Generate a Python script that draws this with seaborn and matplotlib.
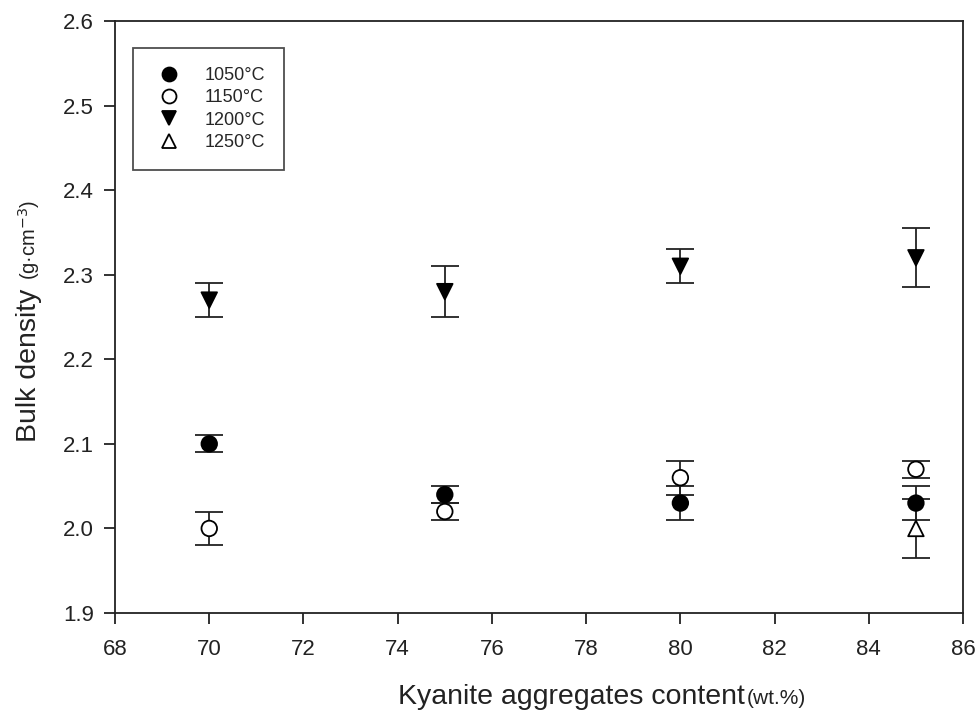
import matplotlib
matplotlib.use('Agg')
import matplotlib.pyplot as plt
import numpy as np
import pandas as pd
import seaborn as sns

# values
temps = ['1050°C', '1150°C', '1200°C', '1250°C']
content = [70, 75, 80, 85]
dens_1050 = [2.10, 2.04, 2.03, 2.03]
err_1050 = [0.01, 0.01, 0.02, 0.02]
dens_1150 = [2.00, 2.02, 2.06, 2.07]
err_1150 = [0.02, 0.01, 0.02, 0.01]
dens_1200 = [2.27, 2.28, 2.31, 2.32]
err_1200 = [0.02, 0.03, 0.02, 0.035]
content_1250 = [85]
dens_1250 = [2.00]
err_1250 = [0.035]

rows = []
for t, xs, ys, es in [(temps[0], content, dens_1050, err_1050),
                      (temps[1], content, dens_1150, err_1150),
                      (temps[2], content, dens_1200, err_1200),
                      (temps[3], content_1250, dens_1250, err_1250)]:
    for x, y, e in zip(xs, ys, es):
        rows.append({'temp': t, 'content': x, 'density': y, 'err': e})
df = pd.DataFrame(rows)

sns.set_style('ticks')
plt.rcParams['font.family'] = ['Liberation Sans', 'DejaVu Sans']

W, H = 979, 718
fig = plt.figure(figsize=(W / 100, H / 100), dpi=100)
ax = fig.add_axes([0.1175, 0.1462, 0.8662, 0.8246])

# error bars first, markers over them
for t in temps:
    sub = df[df['temp'] == t]
    ax.errorbar(sub['content'], sub['density'], yerr=sub['err'], fmt='none',
                ecolor='#222222', elinewidth=1.3, capsize=10, capthick=1.3, zorder=2)

palette = {'1050°C': 'black', '1150°C': 'white', '1200°C': 'black', '1250°C': 'white'}
markers = {'1050°C': 'o', '1150°C': 'o', '1200°C': 'v', '1250°C': '^'}
sns.scatterplot(data=df, x='content', y='density', hue='temp', style='temp',
                hue_order=temps, style_order=temps, palette=palette, markers=markers,
                s=125, edgecolor='black', linewidth=1.3, ax=ax, zorder=3)

ax.set_xlim(68, 86)
ax.set_ylim(1.9, 2.6)
ax.set_xticks(np.arange(68, 87, 2))
ax.set_yticks(np.arange(1.9, 2.61, 0.1))
ax.set_yticklabels([f'{v:.1f}' for v in np.arange(1.9, 2.61, 0.1)])
ax.tick_params(direction='out', length=8, width=1.3, labelsize=16, colors='#222222', pad=7)
ax.tick_params(axis='x', pad=11)
for sp in ax.spines.values():
    sp.set_linewidth(1.3)
    sp.set_color('#222222')
ax.set_xlabel('')
ax.set_ylabel('')

leg = ax.legend(loc='upper left', bbox_to_anchor=(0.0212, 0.9545), borderaxespad=0,
                fontsize=13, frameon=True, fancybox=False, edgecolor='#222222',
                borderpad=1.05, labelspacing=0.3, handletextpad=1.0, handlelength=1.9,
                markerscale=0.9)
leg.get_frame().set_linewidth(1.3)
for h in leg.legend_handles:
    if hasattr(h, 'set_markeredgecolor'):
        h.set_markeredgecolor('black')
    else:
        h.set_edgecolor('black')

# axis titles with the unit part in a smaller size
fig.text(398 / W, 1 - 704 / H, 'Kyanite aggregates content', ha='left', va='baseline',
         fontsize=20.5, color='#222222')
fig.text(747 / W, 1 - 704 / H, '(wt.%)', ha='left', va='baseline',
         fontsize=15, color='#222222')
fig.text(36 / W, 1 - 442 / H, 'Bulk density', ha='left', va='baseline', rotation=90,
         rotation_mode='anchor', fontsize=20.5, color='#222222')
fig.text(36 / W, 1 - 280 / H, '(g·cm$^{-3}$)', ha='left', va='baseline', rotation=90,
         rotation_mode='anchor', fontsize=14.5, color='#222222')

fig.savefig('out.png', dpi=100, facecolor='white')
